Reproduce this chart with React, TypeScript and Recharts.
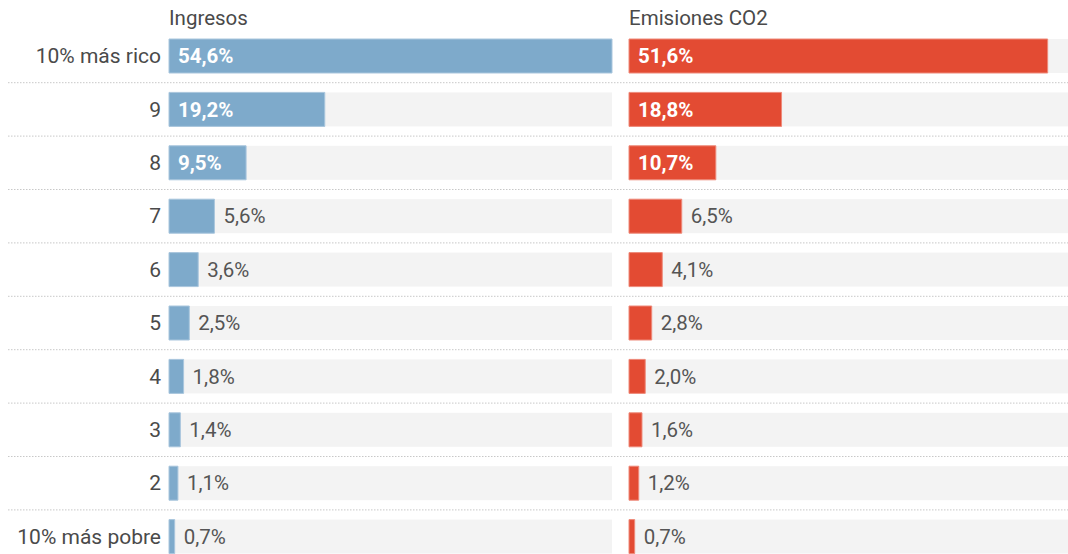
import React from 'react';
import { BarChart, Bar, XAxis, YAxis, LabelList } from 'recharts';

const categories = ['10% más rico', '9', '8', '7', '6', '5', '4', '3', '2', '10% más pobre'];
const ingresos = [54.6, 19.2, 9.5, 5.6, 3.6, 2.5, 1.8, 1.4, 1.1, 0.7];
const emisiones = [51.6, 18.8, 10.7, 6.5, 4.1, 2.8, 2.0, 1.6, 1.2, 0.7];
const panelTitles = ['Ingresos', 'Emisiones CO2'];
const DOMAIN_MAX = 54.6;

const FONT = 'Roboto, "Noto Sans", sans-serif';
const BLUE = '#7eaacb';
const RED = '#e34b33';
const GREY_BG = '#f3f3f3';
const TEXT = '#4a4a4a';

const H = 564;
const TOP = 29;
const BOTTOM = 1;
const BAR = 34;
const BAND = (H - TOP - BOTTOM) / categories.length;

const leftData = categories.map((c, i) => ({ cat: c, v: ingresos[i] }));
const rightData = categories.map((c, i) => ({ cat: c, v: emisiones[i] }));

const fmt = (v: number) => v.toFixed(1).replace('.', ',') + '%';

const makeBackground = (lineLeft: number, lineRight: number) => (props: any) => {
  const { x, y, width, height, index } = props;
  const ly = y + height + (BAND - BAR) / 2;
  return (
    <g>
      <rect x={x} y={y} width={width} height={height} fill={GREY_BG} />
      {index < categories.length - 1 && (
        <line
          x1={x - lineLeft}
          x2={x + width + lineRight}
          y1={ly}
          y2={ly}
          stroke="#c8c8c8"
          strokeWidth={1}
          strokeDasharray="1.5 1.5"
        />
      )}
    </g>
  );
};

const valueLabel = (props: any) => {
  const { x, y, width, height, value } = props;
  const inside = value > 8;
  return (
    <text
      x={inside ? x + 9 : x + width + 9}
      y={y + height / 2}
      dy="0.35em"
      fill={inside ? '#fff' : '#555'}
      fontWeight={inside ? 700 : 400}
      fontSize={20.5}
      fontFamily={FONT}
    >
      {fmt(value)}
    </text>
  );
};

const Title = ({ left, text }: { left: number; text: string }) => (
  <div
    style={{
      position: 'absolute',
      left,
      top: 5,
      fontFamily: FONT,
      fontSize: 20.5,
      color: TEXT,
      lineHeight: '26px',
      whiteSpace: 'nowrap',
    }}
  >
    {text}
  </div>
);

export default function App() {
  return (
    <div
      style={{
        position: 'fixed',
        left: 0,
        top: 0,
        width: 1068,
        height: 554,
        overflow: 'hidden',
        background: '#fff',
      }}
    >
      <div style={{ position: 'absolute', left: 0, top: 0 }}>
        <BarChart
          width={620}
          height={H}
          data={leftData}
          layout="vertical"
          margin={{ top: TOP, right: 8, bottom: BOTTOM, left: 0 }}
          barSize={BAR}
        >
          <XAxis type="number" domain={[0, DOMAIN_MAX]} hide />
          <YAxis
            type="category"
            dataKey="cat"
            width={169}
            axisLine={false}
            tickLine={false}
            interval={0}
            tick={{ fontSize: 21, fill: TEXT, fontFamily: FONT }}
          />
          <Bar
            dataKey="v"
            fill={BLUE}
            stroke="#a9c6dd"
            strokeWidth={1}
            isAnimationActive={false}
            background={makeBackground(161, 8)}
          >
            <LabelList dataKey="v" content={valueLabel} />
          </Bar>
        </BarChart>
      </div>
      <div style={{ position: 'absolute', left: 620, top: 0 }}>
        <BarChart
          width={452}
          height={H}
          data={rightData}
          layout="vertical"
          margin={{ top: TOP, right: 0, bottom: BOTTOM, left: 9 }}
          barSize={BAR}
        >
          <XAxis type="number" domain={[0, DOMAIN_MAX]} hide />
          <YAxis type="category" dataKey="cat" hide />
          <Bar
            dataKey="v"
            fill={RED}
            stroke="#ee8a7a"
            strokeWidth={1}
            isAnimationActive={false}
            background={makeBackground(9, 0)}
          >
            <LabelList dataKey="v" content={valueLabel} />
          </Bar>
        </BarChart>
      </div>
      <Title left={169} text={panelTitles[0]} />
      <Title left={629} text={panelTitles[1]} />
    </div>
  );
}
